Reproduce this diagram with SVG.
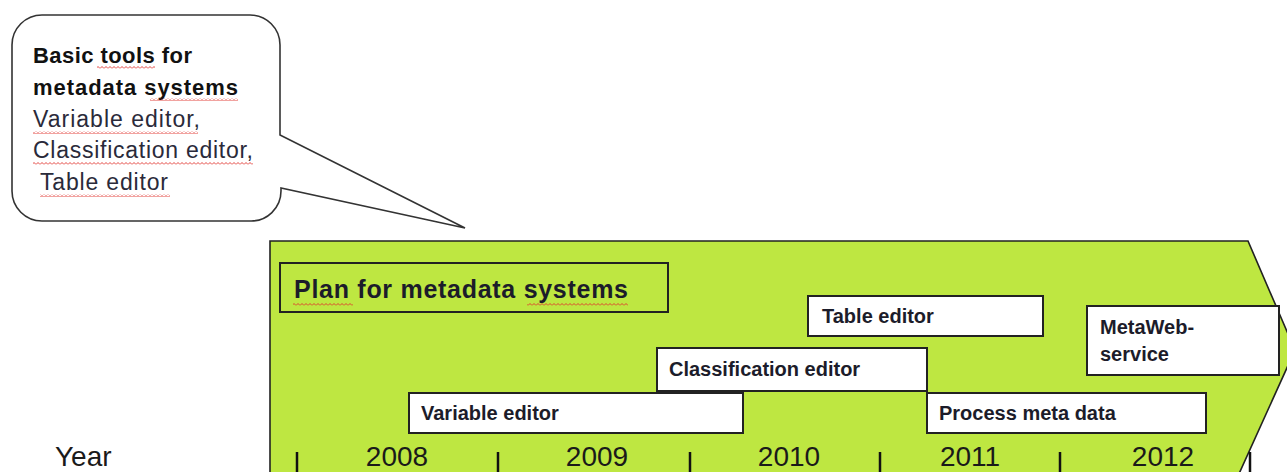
<svg xmlns="http://www.w3.org/2000/svg" width="1287" height="472" viewBox="0 0 1287 472">
<defs>
<pattern id="squig" width="4" height="3" patternUnits="userSpaceOnUse">
<path d="M0,2.5 L2,0.5 L4,2.5" fill="none" stroke="#e0302a" stroke-width="0.9"/>
</pattern>
<style>
.box{fill:#fff;stroke:#222;stroke-width:2}
.lbl{font-family:"Liberation Sans",Arial,sans-serif;font-size:20px;font-weight:bold;fill:#1c1c2a}
.cb{font-family:"Liberation Sans",Arial,sans-serif;font-size:22px;font-weight:bold;fill:#111}
.cr{font-family:"Liberation Sans",Arial,sans-serif;font-size:23px;fill:#2a2a3a}
.yr{font-family:"Liberation Sans",Arial,sans-serif;font-size:28px;fill:#1a1a1a}
.tick{stroke:#111;stroke-width:2.5}
.sq{fill:url(#squig)}
</style>
</defs>
<rect width="1287" height="472" fill="#fff"/>

<g id="callout">
<path d="M42,15 H250 A30,30 0 0 1 280,45 V135 L465,228 L281,188 V191 A30,30 0 0 1 250,221 H42 A30,30 0 0 1 12,191 V45 A30,30 0 0 1 42,15 Z" fill="#fff" stroke="#333" stroke-width="1.6"/>
<text class="cb" x="33" y="63" textLength="159" lengthAdjust="spacing">Basic tools for</text>
<text class="cb" x="33" y="95" textLength="205" lengthAdjust="spacing">metadata systems</text>
<text class="cr" x="33" y="127" textLength="167" lengthAdjust="spacing">Variable editor,</text>
<text class="cr" x="33" y="158" textLength="220" lengthAdjust="spacing">Classification editor,</text>
<text class="cr" x="40" y="190" textLength="128" lengthAdjust="spacing">Table editor</text>
<rect class="sq" x="97" y="66" width="58" height="3"/>
<rect class="sq" x="150" y="98" width="88" height="3"/>
<rect class="sq" x="33" y="131" width="165" height="3"/>
<rect class="sq" x="33" y="162" width="220" height="3"/>
<rect class="sq" x="40" y="194" width="130" height="3"/>
</g>

<g id="timeline-band">
<path d="M270,476 V241 H1248 L1295,350 L1238,476 Z" fill="#bee741" stroke="#222" stroke-width="1.6"/>
</g>

<g id="plan">
<rect x="280" y="263" width="388" height="49" fill="none" stroke="#222" stroke-width="2"/>
<text class="lbl" x="294" y="298" style="font-size:25px" textLength="334" lengthAdjust="spacing">Plan for metadata systems</text>
<rect class="sq" x="293" y="303" width="60" height="3"/>
<rect class="sq" x="527" y="303" width="101" height="3"/>
</g>

<g id="table-editor">
<rect class="box" x="808" y="296" width="235" height="40"/>
<text class="lbl" x="822" y="323">Table editor</text>
</g>

<g id="metaweb">
<rect class="box" x="1087" y="306" width="192" height="69"/>
<text class="lbl" x="1100" y="334">MetaWeb-</text>
<text class="lbl" x="1100" y="361">service</text>
</g>

<g id="classification-editor">
<rect class="box" x="657" y="348" width="270" height="43"/>
<text class="lbl" x="669" y="376">Classification editor</text>
</g>

<g id="variable-editor">
<rect class="box" x="409" y="393" width="334" height="40"/>
<text class="lbl" x="421" y="420">Variable editor</text>
</g>

<g id="process-meta-data">
<rect class="box" x="927" y="393" width="279" height="40"/>
<text class="lbl" x="939" y="420">Process meta data</text>
</g>

<g id="axis">
<text class="yr" x="55" y="466">Year</text>
<line class="tick" x1="297" y1="452" x2="297" y2="472"/>
<line class="tick" x1="498" y1="452" x2="498" y2="472"/>
<line class="tick" x1="690" y1="452" x2="690" y2="472"/>
<line class="tick" x1="880" y1="452" x2="880" y2="472"/>
<line class="tick" x1="1060" y1="452" x2="1060" y2="472"/>
<line class="tick" x1="1250" y1="452" x2="1250" y2="472"/>
<text class="yr" x="397" y="466" text-anchor="middle">2008</text>
<text class="yr" x="597" y="466" text-anchor="middle">2009</text>
<text class="yr" x="789" y="466" text-anchor="middle">2010</text>
<text class="yr" x="970" y="466" text-anchor="middle">2011</text>
<text class="yr" x="1163" y="466" text-anchor="middle">2012</text>
</g>
</svg>
